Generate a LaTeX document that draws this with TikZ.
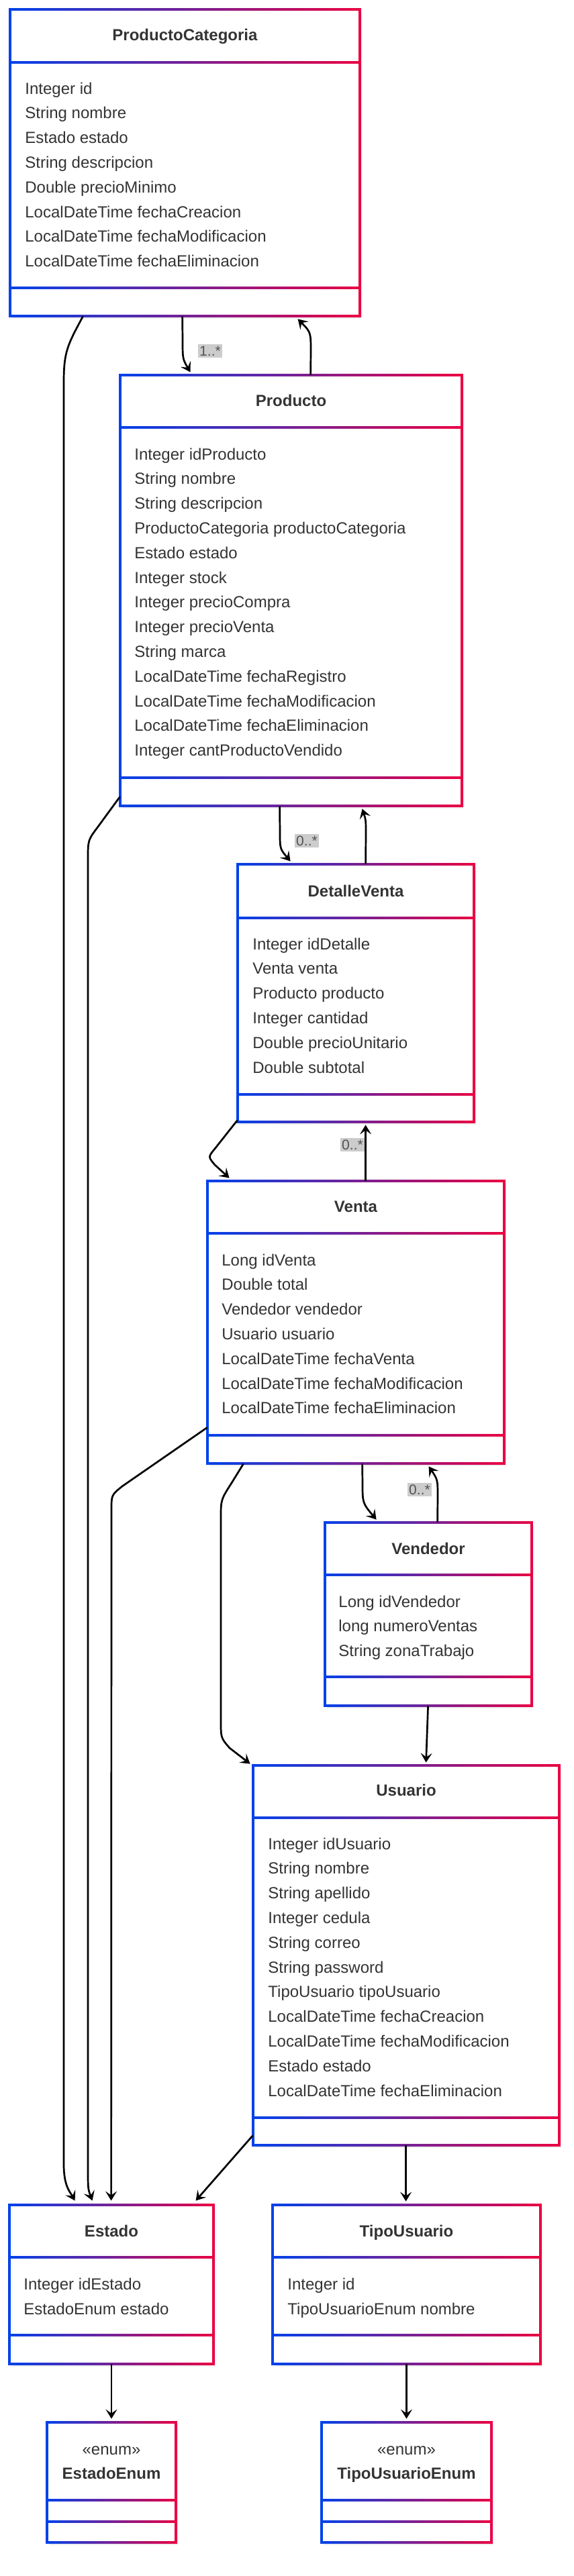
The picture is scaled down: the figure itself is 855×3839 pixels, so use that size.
\documentclass[tikz,border=0pt]{standalone}
\usepackage{fontspec}
\setmainfont{Liberation Sans}
\usetikzlibrary{arrows.meta,fit,calc}
\definecolor{cb}{HTML}{0042EB}
\definecolor{cr}{HTML}{EB0042}
\definecolor{txt}{HTML}{333333}
\tikzset{
  conn/.style={draw=black, line width=1.35pt, -{Stealth[length=7pt,width=8.5pt,inset=3pt]}},
  attr/.style={anchor=west, inner sep=0pt, text=txt, font=\fontsize{12}{14}\selectfont, text height=0.72em, text depth=0.21em},
  ttl/.style={anchor=center, inner sep=0pt, text=txt, font=\fontsize{12}{14}\selectfont\bfseries, text height=0.72em, text depth=0.21em},
  stereo/.style={anchor=center, inner sep=0pt, text=txt, font=\fontsize{12}{14}\selectfont, text height=0.72em, text depth=0.21em},
  lbl/.style={fill=black!20, text=black!68, inner xsep=1pt, inner ysep=1.5pt, font=\fontsize{10.5}{12}\selectfont},
  frame/.style={inner sep=0pt},
}
\newcommand\umlbox[7]{%
  \fill[black!7] ({#2+3},{#3+4}) rectangle ({#4+3},{#5+4});
  \shade[left color=cb,right color=cr] ({#2-1.8},{#3-1.8}) rectangle ({#4+1.8},{#5+1.8});
  \fill[white] ({#2+1.8},{#3+1.8}) rectangle ({#4-1.8},{#5-1.8});
  \shade[left color=cb,right color=cr] ({#2-1.8},{#6-1.8}) rectangle ({#4+1.8},{#6+1.8});
  \shade[left color=cb,right color=cr] ({#2-1.8},{#7-1.8}) rectangle ({#4+1.8},{#7+1.8});
  \node[frame, fit={(#2,#3) (#4,#5)}] (#1) {};
}
\begin{document}
\begin{tikzpicture}[x=0.5pt,y=-0.5pt]
\useasboundingbox[fill=white] (0,0) rectangle (855,3839);

% ProductoCategoria
\umlbox{pc}{15}{14}{536}{471}{93}{429}
\node[ttl] (pc-t) at (275.5,55) {ProductoCategoria};
\foreach \t [count=\i] in {Integer id, String nombre, Estado estado, String descripcion, Double precioMinimo, LocalDateTime fechaCreacion, LocalDateTime fechaModificacion, LocalDateTime fechaEliminacion}
  \node[attr] (pc-a\i) at (37,{135+(\i-1)*36.8}) {\t};

% Producto
\umlbox{pr}{179}{559}{688}{1201}{637}{1159}
\node[ttl] (pr-t) at (433.5,600) {Producto};
\foreach \t [count=\i] in {Integer idProducto, String nombre, String descripcion, ProductoCategoria productoCategoria, Estado estado, Integer stock, Integer precioCompra, Integer precioVenta, String marca, LocalDateTime fechaRegistro, LocalDateTime fechaModificacion, LocalDateTime fechaEliminacion, Integer cantProductoVendido}
  \node[attr] (pr-a\i) at (200,{680+(\i-1)*36.8}) {\t};

% DetalleVenta
\umlbox{dv}{354}{1288}{706}{1672}{1368}{1631}
\node[ttl] (dv-t) at (530,1331) {DetalleVenta};
\foreach \t [count=\i] in {Integer idDetalle, Venta venta, Producto producto, Integer cantidad, Double precioUnitario, Double subtotal}
  \node[attr] (dv-a\i) at (376,{1410+(\i-1)*36.8}) {\t};

% Venta
\umlbox{ve}{309}{1760}{751}{2181}{1838}{2139}
\node[ttl] (ve-t) at (530,1801) {Venta};
\foreach \t [count=\i] in {Long idVenta, Double total, Vendedor vendedor, Usuario usuario, LocalDateTime fechaVenta, LocalDateTime fechaModificacion, LocalDateTime fechaEliminacion}
  \node[attr] (ve-a\i) at (330,{1881+(\i-1)*36.8}) {\t};

% Vendedor
\umlbox{vd}{484}{2269}{792}{2542}{2347}{2499}
\node[ttl] (vd-t) at (638,2311) {Vendedor};
\foreach \t [count=\i] in {Long idVendedor, long numeroVentas, String zonaTrabajo}
  \node[attr] (vd-a\i) at (504,{2390+(\i-1)*36.8}) {\t};

% Usuario
\umlbox{us}{377}{2631}{833}{3197}{2709}{3156}
\node[ttl] (us-t) at (605,2671) {Usuario};
\foreach \t [count=\i] in {Integer idUsuario, String nombre, String apellido, Integer cedula, String correo, String password, TipoUsuario tipoUsuario, LocalDateTime fechaCreacion, LocalDateTime fechaModificacion, Estado estado, LocalDateTime fechaEliminacion}
  \node[attr] (us-a\i) at (399,{2751+(\i-1)*36.8}) {\t};

% Estado
\umlbox{es}{14}{3286}{318}{3523}{3364}{3480}
\node[ttl] (es-t) at (166,3328) {Estado};
\node[attr] (es-a1) at (35,3407) {Integer idEstado};
\node[attr] (es-a2) at (35,3444) {EstadoEnum estado};

% TipoUsuario
\umlbox{tu}{406}{3286}{805}{3523}{3364}{3480}
\node[ttl] (tu-t) at (605.5,3328) {TipoUsuario};
\node[attr] (tu-a1) at (428,3407) {Integer id};
\node[attr] (tu-a2) at (428,3444) {TipoUsuarioEnum nombre};

% EstadoEnum
\umlbox{ee}{70}{3610}{262}{3789}{3726}{3758}
\node[stereo] (ee-s) at (166,3653) {«enum»};
\node[ttl] (ee-t) at (166,3689) {EstadoEnum};

% TipoUsuarioEnum
\umlbox{te}{479}{3610}{732}{3789}{3726}{3758}
\node[stereo] (te-s) at (605.5,3653) {«enum»};
\node[ttl] (te-t) at (605.5,3689) {TipoUsuarioEnum};

% connectors
\draw[conn] ($(pc.south west)+(109,0)$) .. controls (100,515) and (95,525) .. (95,570) -- (95,3225) .. controls (95,3258) and (104,3266) .. ($(es.north west)+(98,-6)$);
\draw[conn] ($(pr.south west)+(0,-14)$) -- (146,1232) .. controls (131,1252) .. (131,1280) -- (131,3230) .. controls (131,3262) .. ($(es.north west)+(124,-6)$);
\draw[conn] ($(ve.south west)+(0,-54)$) -- (182,2215) .. controls (166,2228) .. (166,2250) -- ($(es.north west)+(152,-6)$);
\draw[conn] ($(us.south west)+(0,-15)$) -- ($(es.north west)+(278,-6)$);
\draw[conn] ($(pc.south west)+(257,0)$) -- (272,505) .. controls (272,535) .. ($(pr.north west)+(105,-4)$);
\draw[conn] ($(pr.north west)+(284,0)$) -- (463,525) .. controls (463,495) .. ($(pc.south west)+(429,4)$);
\draw[conn] ($(pr.south west)+(238,0)$) -- (417,1240) .. controls (417,1265) .. ($(dv.north west)+(79,-4)$);
\draw[conn] ($(dv.north west)+(191,0)$) -- (545,1245) .. controls (545,1222) .. ($(pr.south west)+(361,4)$);
\draw[conn] ($(dv.south west)+(0,-3)$) -- (320,1712) .. controls (310,1724) .. (320,1736) -- ($(ve.north west)+(33,-4)$);
\draw[conn] ($(ve.north west)+(236,0)$) -- ($(dv.south west)+(191,4)$);
\draw[conn] ($(ve.south west)+(54,0)$) -- (345,2210) .. controls (329,2235) .. (329,2262) -- (329,2565) .. controls (329,2590) .. (342,2605) -- ($(us.north west)+(-4,-2)$);
\draw[conn] ($(ve.south west)+(231,0)$) -- (540,2210) .. controls (540,2240) .. ($(vd.north west)+(77,-4)$);
\draw[conn] ($(vd.north west)+(168,0)$) -- (652,2232) .. controls (652,2205) .. ($(ve.south west)+(330,4)$);
\draw[conn] ($(vd.south west)+(154,0)$) -- ($(us.north west)+(258,-4)$);
\draw[conn] ($(us.south west)+(228,0)$) -- ($(tu.north west)+(199,-5)$);
\draw[conn] (es.south) -- ($(ee.north)+(0,-5)$);
\draw[conn] (tu.south) -- ($(te.north)+(0,-5)$);

% multiplicity labels
\node[lbl] (m1) at (313,523) {1..*};
\node[lbl] (m2) at (457,1253) {0..*};
\node[lbl] (m3) at (525,1706) {0..*};
\node[lbl] (m4) at (625,2220) {0..*};
\end{tikzpicture}
\end{document}
